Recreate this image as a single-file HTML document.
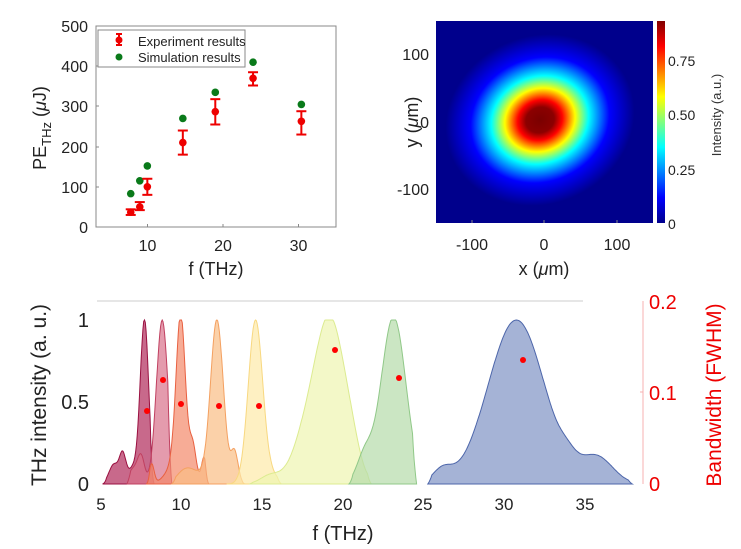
<!DOCTYPE html>
<html><head><meta charset="utf-8"><style>
body{margin:0;background:#fff;}
svg{display:block;font-family:"Liberation Sans",sans-serif;}
</style></head><body>
<svg id="s" width="741" height="549" viewBox="0 0 741 549" xmlns="http://www.w3.org/2000/svg">
<defs>
<radialGradient id="blob" cx="0.5" cy="0.5" r="0.5">
<stop offset="0" stop-color="#7a0000"/>
<stop offset="0.15" stop-color="#8c0000"/>
<stop offset="0.236" stop-color="#ff0000"/>
<stop offset="0.372" stop-color="#ffff00"/>
<stop offset="0.516" stop-color="#00ffff"/>
<stop offset="0.735" stop-color="#0000ff"/>
<stop offset="1" stop-color="#00008c"/>
</radialGradient>
<linearGradient id="cb" x1="0" y1="1" x2="0" y2="0">
<stop offset="0" stop-color="#00008c"/>
<stop offset="0.125" stop-color="#0000ff"/>
<stop offset="0.375" stop-color="#00ffff"/>
<stop offset="0.625" stop-color="#ffff00"/>
<stop offset="0.875" stop-color="#ff0000"/>
<stop offset="1" stop-color="#800000"/>
</linearGradient>
<clipPath id="hc"><rect x="436" y="21" width="217" height="202"/></clipPath>
</defs>
<rect x="96" y="26" width="240" height="201" fill="none" stroke="#888" stroke-width="1"/>
<g font-size="16" fill="#222" text-anchor="end">
<text x="88" y="32">500</text><text x="88" y="72">400</text><text x="88" y="112">300</text>
<text x="88" y="153">200</text><text x="88" y="193">100</text><text x="88" y="233">0</text>
</g>
<g stroke="#888"><line x1="96" y1="66" x2="99" y2="66"/><line x1="96" y1="106" x2="99" y2="106"/><line x1="96" y1="147" x2="99" y2="147"/><line x1="96" y1="187" x2="99" y2="187"/>
<line x1="147.5" y1="227" x2="147.5" y2="224"/><line x1="223" y1="227" x2="223" y2="224"/><line x1="298.5" y1="227" x2="298.5" y2="224"/></g>
<g font-size="16" fill="#222" text-anchor="middle">
<text x="147.5" y="251">10</text><text x="223" y="251">20</text><text x="298.5" y="251">30</text>
<text x="216" y="275" font-size="18">f (THz)</text>
</g>
<text transform="translate(46,128) rotate(-90)" font-size="18" fill="#222" text-anchor="middle">PE<tspan font-size="13" dy="5">THz</tspan><tspan dy="-5"> (</tspan><tspan font-style="italic">μ</tspan>J)</text>
<g id="tl"></g>
<rect x="98" y="30" width="147" height="37" fill="#fff" stroke="#888"/>
<line x1="119" y1="34" x2="119" y2="45" stroke="#e00" stroke-width="2"/><line x1="116" y1="34" x2="122" y2="34" stroke="#e00" stroke-width="2"/><line x1="116" y1="45" x2="122" y2="45" stroke="#e00" stroke-width="2"/>
<circle cx="119" cy="40" r="3.5" fill="#e00"/>
<circle cx="119" cy="57" r="3.5" fill="#0a7a1a"/>
<g font-size="13" fill="#222"><text x="138" y="46">Experiment results</text><text x="138" y="62">Simulation results</text></g>

<rect x="436" y="21" width="217" height="202" fill="#00008c"/>
<g clip-path="url(#hc)"><ellipse cx="0" cy="0" rx="96" ry="84" fill="url(#blob)" transform="translate(540,120) rotate(-22)"/></g>
<rect x="657" y="21" width="8" height="202" fill="url(#cb)"/>
<g stroke="#888"><line x1="472" y1="223" x2="472" y2="220"/><line x1="544" y1="223" x2="544" y2="220"/><line x1="617" y1="223" x2="617" y2="220"/></g>
<g font-size="16" fill="#222" text-anchor="middle">
<text x="472" y="250">-100</text><text x="544" y="250">0</text><text x="617" y="250">100</text>
<text x="544" y="275" font-size="18">x (<tspan font-style="italic">μ</tspan>m)</text>
</g>
<g font-size="16" fill="#222" text-anchor="end">
<text x="429" y="60">100</text><text x="429" y="128">0</text><text x="429" y="195">-100</text>
</g>
<text transform="translate(418,122) rotate(-90)" font-size="18" fill="#222" text-anchor="middle">y (<tspan font-style="italic">μ</tspan>m)</text>
<g font-size="14" fill="#222"><text x="668" y="66">0.75</text><text x="668" y="120">0.50</text><text x="668" y="175">0.25</text><text x="668" y="229">0</text></g>
<text transform="translate(721,115) rotate(-90)" font-size="13" fill="#333" text-anchor="middle">Intensity (a.u.)</text>

<g id="bp"></g>
<line x1="97" y1="301" x2="583" y2="301" stroke="#ccc"/>
<line x1="643" y1="301" x2="643" y2="484" stroke="#f7b0b0"/>
<line x1="640" y1="392" x2="643" y2="392" stroke="#f7b0b0"/>
<g font-size="20" fill="#222" text-anchor="end"><text x="89" y="327">1</text><text x="89" y="409">0.5</text><text x="89" y="491">0</text></g>
<g font-size="20" fill="#e00"><text x="649" y="309">0.2</text><text x="649" y="400">0.1</text><text x="649" y="491">0</text></g>
<g font-size="17" fill="#222" text-anchor="middle">
<text x="101" y="510">5</text><text x="181" y="510">10</text><text x="262" y="510">15</text><text x="343" y="510">20</text><text x="423" y="510">25</text><text x="504" y="510">30</text><text x="585" y="510">35</text>
<text x="343" y="540" font-size="20">f (THz)</text>
</g>
<text transform="translate(46,395) rotate(-90)" font-size="21" fill="#222" text-anchor="middle">THz intensity (a. u.)</text>
<text transform="translate(721,395) rotate(-90)" font-size="21" fill="#e00" text-anchor="middle">Bandwidth (FWHM)</text>
</svg>
<script>
var NS="http://www.w3.org/2000/svg";
function el(p,t,a){var e=document.createElementNS(NS,t);for(var k in a)e.setAttribute(k,a[k]);p.appendChild(e);return e;}
var tl=document.getElementById("tl");
function X1(f){return 96+(f-3.2)*7.55;}function Y1(v){return 227-0.402*v;}
[[7.8,83],[9,115],[10,152],[14.7,270],[19,335],[24,410],[30.4,305]].forEach(function(p){el(tl,"circle",{cx:X1(p[0]),cy:Y1(p[1]),r:3.8,fill:"#0a7a1a"});});
[[7.8,37,30,44],[9,50,42,62],[10,100,80,120],[14.7,210,180,240],[19,287,255,318],[24,370,352,385],[30.4,263,230,288]].forEach(function(p){
var x=X1(p[0]);el(tl,"line",{x1:x,y1:Y1(p[2]),x2:x,y2:Y1(p[3]),stroke:"#e00","stroke-width":2});
el(tl,"line",{x1:x-5,y1:Y1(p[2]),x2:x+5,y2:Y1(p[2]),stroke:"#e00","stroke-width":2});
el(tl,"line",{x1:x-5,y1:Y1(p[3]),x2:x+5,y2:Y1(p[3]),stroke:"#e00","stroke-width":2});
el(tl,"circle",{cx:x,cy:Y1(p[1]),r:3.8,fill:"#e00"});});
var bp=document.getElementById("bp");
function X(f){return 101+(f-5)*16.1;}function Y(v){return 484-164*v;}
var S=[
{a:5.1,b:8.3,c:"#b02a5a",s:"#9a1040",g:[[1,7.7,0.26],[0.12,5.8,0.3],[0.17,6.35,0.2],[0.1,7.0,0.3]]},
{a:6.6,b:9.4,c:"#d8708a",s:"#c04060",g:[[1,8.8,0.36],[0.1,7.1,0.4],[0.12,7.5,0.2]]},
{a:7.8,b:11.7,c:"#f4896a",s:"#e86040",g:[[0.88,9.95,0.28],[0.12,9.7,0.6],[0.12,8.15,0.15],[0.17,10.7,0.2],[0.15,11.4,0.15],[0.06,10.3,0.6]]},
{a:9.4,b:14.0,c:"#f9bd85",s:"#f4a060",g:[[1,12.2,0.4],[0.08,10.2,0.5],[0.19,13.3,0.22],[0.05,11,0.5]]},
{a:12.8,b:16.2,c:"#fde9a8",s:"#f8d880",g:[[1,14.6,0.45],[0.04,15.7,0.4]]},
{a:14.2,b:21.8,c:"#eef5b0",s:"#dceb90",g:[[0.75,19.35,0.8],[0.45,18.2,1.0],[0.2,20.5,0.6],[0.05,15.5,0.6]]},
{a:20.4,b:24.6,c:"#b5dcaa",s:"#90c888",g:[[1,23.2,0.75],[0.18,21.4,0.5],[0.05,22.5,0.5]]},
{a:25.3,b:38.0,c:"#7f93c4",s:"#4d66aa",g:[[1,30.8,1.75],[0.16,35.8,1.0],[0.08,26.2,0.6],[0.05,34.0,0.5]]}
];
S.forEach(function(s){
var d="M"+X(s.a)+","+Y(0);
for(var f=s.a;f<=s.b+1e-6;f+=0.05){var v=0;s.g.forEach(function(g){v+=g[0]*Math.exp(-Math.pow(f-g[1],2)/(2*g[2]*g[2]));});
var w=Math.min(1,(f-s.a)/0.25,(s.b-f)/0.25);v*=Math.max(w,0);d+="L"+X(f).toFixed(1)+","+Y(Math.min(v,1)).toFixed(1);}
d+="L"+X(s.b)+","+Y(0)+"Z";
el(bp,"path",{d:d,fill:s.c,"fill-opacity":0.7,stroke:s.s,"stroke-width":1});});
[[147,411],[163,380],[181,404],[219,406],[259,406],[335,350],[399,378],[523,360]].forEach(function(p){el(bp,"circle",{cx:p[0],cy:p[1],r:3,fill:"#f00"});});
</script>
</body></html>
